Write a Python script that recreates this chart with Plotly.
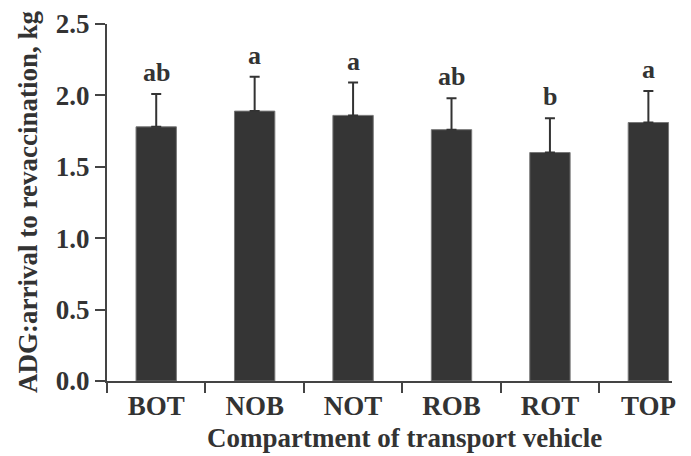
import plotly.graph_objects as go

categories = ["BOT", "NOB", "NOT", "ROB", "ROT", "TOP"]
means = [1.78, 1.89, 1.86, 1.76, 1.60, 1.81]
errors = [0.23, 0.24, 0.23, 0.22, 0.24, 0.22]
letters = ["ab", "a", "a", "ab", "b", "a"]
y_ticks = [0.0, 0.5, 1.0, 1.5, 2.0, 2.5]

font_family = "Liberation Serif"
dark = "#333333"
axis_col = "#444444"

W, H = 691, 456
L, R, T, B = 107, 19, 24, 75
pw, ph = W - L - R, H - T - B

fig = go.Figure()
fig.add_trace(go.Bar(
    x=categories, y=means, width=0.41,
    marker=dict(color="#353535", line=dict(color="#777777", width=1)),
    error_y=dict(type="data", array=errors, arrayminus=[0]*len(errors), symmetric=False,
                 color=dark, thickness=2, width=5),
    hoverinfo="skip",
))
for c, m, e, l in zip(categories, means, errors, letters):
    fig.add_annotation(x=c, y=m + e, text=f"<b>{l}</b>", showarrow=False,
                       yanchor="bottom", yshift=5,
                       font=dict(family=font_family, size=26, color=dark))

# axis titles as annotations (the original figure is cropped on the right)
fig.add_annotation(x=2.52, xref="x", y=(H - B - 438) / ph, yref="paper",
                   text="<b>Compartment of transport vehicle</b>",
                   showarrow=False, xanchor="center", yanchor="middle",
                   font=dict(family=font_family, size=27, color=dark))
fig.add_annotation(x=(28 - L) / pw, xref="paper", y=(H - B - 202) / ph, yref="paper",
                   text="<b>ADG:arrival to revaccination, kg</b>",
                   showarrow=False, xanchor="center", yanchor="middle", textangle=-90,
                   font=dict(family=font_family, size=27, color=dark))

fig.update_layout(
    width=W, height=H,
    margin=dict(l=L, r=R, t=T, b=B, autoexpand=False),
    plot_bgcolor="white", paper_bgcolor="white",
    showlegend=False,
    font=dict(family=font_family, size=27, color=dark),
)
fig.update_xaxes(
    range=[-0.5, 5.24], showline=True, linecolor=axis_col, linewidth=2,
    ticks="outside", ticklen=10, tickwidth=2, tickcolor=axis_col, tickson="boundaries",
    tickfont=dict(family=font_family, size=27, color=dark), showgrid=False,
    tickvals=categories, ticktext=[f"<b>{c}</b>" for c in categories],
    automargin=False,
)
fig.update_yaxes(
    range=[0, 2.5], showline=True, linecolor=axis_col, linewidth=2,
    ticks="outside", ticklen=10, tickwidth=2, tickcolor=axis_col,
    tickvals=y_ticks, ticktext=[f"<b>{v:.1f}</b>" for v in y_ticks],
    tickfont=dict(family=font_family, size=27, color=dark), showgrid=False, zeroline=False,
    automargin=False,
)

fig.write_html("out.html", config={"displayModeBar": False},
               post_script="document.body.style.margin='0';document.body.style.overflow='hidden';")
